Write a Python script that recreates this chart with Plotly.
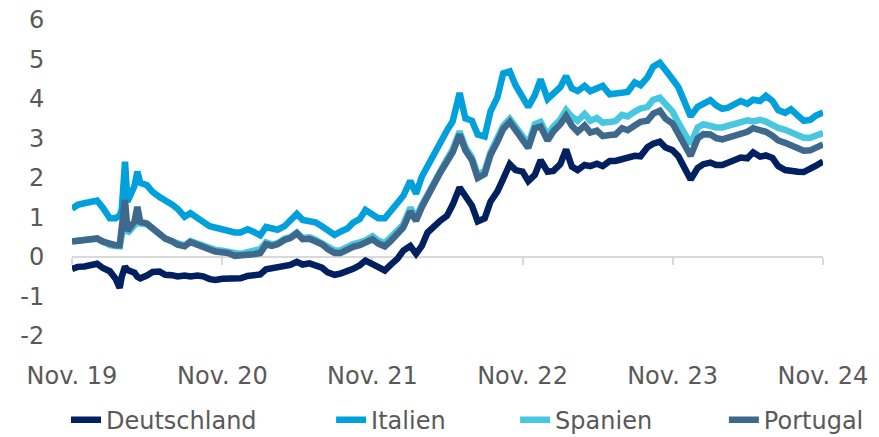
import pandas as pd
import plotly.graph_objects as go

# semi-monthly sample dates plus a few spike days
spike_dates = ["2020-02-25", "2020-03-09", "2020-04-08"]
dates = sorted(list(pd.date_range("2019-11-01", "2024-11-01", freq="SMS"))
               + list(pd.to_datetime(spike_dates)))

deutschland = [
    -0.30, -0.25, -0.24, -0.22, -0.17, -0.28, -0.36, -0.55, -0.78, -0.50, -0.24, -0.33, -0.40, -0.50,
    -0.54, -0.47, -0.38, -0.37, -0.45, -0.46, -0.49, -0.47, -0.49, -0.47, -0.49, -0.56, -0.58,
    -0.55, -0.55, -0.57, -0.54, -0.48, -0.48, -0.44, -0.31, -0.29, -0.28, -0.24, -0.20, -0.12, -0.19,
    -0.16, -0.20, -0.27, -0.39, -0.45, -0.42, -0.36, -0.30, -0.21, -0.09,
    -0.18, -0.27, -0.34, -0.20, -0.04, 0.16, 0.28, 0.08, 0.28, 0.62, 0.80, 0.92, 1.04, 1.32, 1.76,
    1.56, 1.30, 0.90, 0.98, 1.40, 1.66, 1.98, 2.35, 2.20,
    2.16, 1.92, 2.08, 2.45, 2.16, 2.18, 2.35, 2.72, 2.29, 2.20, 2.33, 2.30, 2.36, 2.30, 2.43, 2.43,
    2.48, 2.55, 2.56, 2.55, 2.78, 2.87, 2.92, 2.77,
    2.70, 2.55, 2.20, 1.96, 2.25, 2.35, 2.39, 2.33, 2.33, 2.38, 2.44, 2.52, 2.50, 2.65, 2.54, 2.57,
    2.51, 2.30, 2.20, 2.20, 2.16, 2.15, 2.22, 2.31, 2.42,
]
italien = [
    1.22, 1.32, 1.36, 1.40, 1.43, 1.25, 0.98, 0.98, 1.05, 1.20, 2.41, 1.40, 1.80, 2.16, 1.88, 1.82,
    1.65, 1.52, 1.44, 1.33, 1.22, 1.02, 1.11, 0.96, 0.89, 0.78, 0.74,
    0.71, 0.69, 0.62, 0.62, 0.70, 0.64, 0.55, 0.76, 0.72, 0.69, 0.78, 0.90, 1.09, 0.94, 0.89, 0.88,
    0.78, 0.66, 0.56, 0.64, 0.72, 0.87, 0.96, 1.19,
    1.05, 0.98, 0.98, 1.17, 1.35, 1.55, 1.93, 1.60, 2.03, 2.31, 2.63, 2.95, 3.20, 3.43, 4.15, 3.51,
    3.45, 3.10, 3.05, 3.68, 4.05, 4.65, 4.70, 4.35,
    4.05, 3.80, 4.10, 4.50, 4.00, 4.12, 4.30, 4.58, 4.27, 4.20, 4.33, 4.20, 4.27, 4.33, 4.12, 4.15,
    4.15, 4.18, 4.42, 4.35, 4.55, 4.82, 4.92, 4.75,
    4.50, 4.30, 3.93, 3.56, 3.80, 3.87, 3.97, 3.84, 3.75, 3.78, 3.89, 3.95, 3.88, 3.98, 3.95, 4.08,
    3.95, 3.72, 3.65, 3.74, 3.58, 3.45, 3.47, 3.58, 3.66,
]
spanien = [
    0.40, 0.42, 0.42, 0.44, 0.46, 0.40, 0.30, 0.28, 0.27, 0.55, 1.20, 0.60, 0.80, 1.00, 0.85, 0.83,
    0.70, 0.55, 0.46, 0.40, 0.33, 0.29, 0.40, 0.34, 0.30, 0.22, 0.18,
    0.16, 0.13, 0.07, 0.08, 0.12, 0.15, 0.20, 0.37, 0.32, 0.35, 0.46, 0.50, 0.62, 0.48, 0.50, 0.44,
    0.36, 0.25, 0.16, 0.17, 0.26, 0.33, 0.37, 0.42,
    0.53, 0.42, 0.35, 0.48, 0.67, 0.82, 1.25, 1.00, 1.32, 1.60, 1.95, 2.20, 2.47, 2.72, 3.18, 2.78,
    2.52, 2.08, 2.18, 2.65, 3.00, 3.32, 3.50, 3.28,
    3.08, 2.86, 3.36, 3.42, 3.07, 3.30, 3.48, 3.72, 3.55, 3.45, 3.62, 3.45, 3.52, 3.40, 3.42, 3.44,
    3.60, 3.56, 3.68, 3.76, 3.80, 3.98, 4.03, 3.88,
    3.68, 3.40, 3.15, 2.86, 3.28, 3.36, 3.32, 3.28, 3.28, 3.32, 3.38, 3.40, 3.46, 3.43, 3.47, 3.43,
    3.32, 3.27, 3.22, 3.17, 3.09, 3.02, 3.02, 3.08, 3.14,
]
portugal = [
    0.39, 0.40, 0.41, 0.44, 0.47, 0.39, 0.32, 0.30, 0.30, 0.68, 1.44, 0.66, 0.90, 1.27, 0.89, 0.85,
    0.72, 0.56, 0.47, 0.40, 0.31, 0.27, 0.38, 0.31, 0.27, 0.19, 0.14,
    0.12, 0.10, 0.03, 0.03, 0.07, 0.07, 0.10, 0.32, 0.28, 0.32, 0.43, 0.48, 0.60, 0.45, 0.46, 0.40,
    0.32, 0.20, 0.10, 0.10, 0.19, 0.26, 0.30, 0.35,
    0.45, 0.34, 0.27, 0.40, 0.60, 0.75, 1.15, 0.92, 1.26, 1.55, 1.90, 2.14, 2.41, 2.65, 3.10, 2.70,
    2.45, 2.00, 2.10, 2.58, 2.92, 3.24, 3.42, 3.20,
    3.00, 2.76, 3.26, 3.30, 2.95, 3.18, 3.36, 3.57, 3.32, 3.17, 3.33, 3.15, 3.20, 3.06, 3.09, 3.10,
    3.26, 3.21, 3.33, 3.42, 3.45, 3.63, 3.70, 3.50,
    3.38, 3.12, 2.80, 2.56, 3.00, 3.11, 3.10, 3.01, 2.98, 3.03, 3.09, 3.10, 3.17, 3.26, 3.21, 3.17,
    3.07, 2.95, 2.89, 2.84, 2.75, 2.69, 2.70, 2.78, 2.85,
]

tick_dates = ["2019-11-01", "2020-11-01", "2021-11-01", "2022-11-01", "2023-11-01", "2024-11-01"]
tick_labels = ["Nov. 19", "Nov. 20", "Nov. 21", "Nov. 22", "Nov. 23", "Nov. 24"]
y_ticks = [-2, -1, 0, 1, 2, 3, 4, 5, 6]
y_labels = ["-2", "-1", "0", "1", "2", "3", "4", "5", "6"]

series = [
    ("Deutschland", deutschland, "#002060", "legend", -0.008),
    ("Italien", italien, "#00A0DC", "legend2", 0.345),
    ("Spanien", spanien, "#48C7E0", "legend3", 0.590),
    ("Portugal", portugal, "#3E688C", "legend4", 0.868),
]

font = dict(family="DejaVu Sans, sans-serif", size=24, color="#595959")
xr = ["2019-11-01", "2024-11-01"]

fig = go.Figure()
legends = {}
for name, vals, col, lg, lx in series:
    fig.add_trace(go.Scatter(x=dates, y=vals, name=name, mode="lines", legend=lg,
                             line=dict(color=col, width=6.5)))
    legends[lg] = dict(orientation="h", x=lx, xanchor="left", y=-0.266, yanchor="middle",
                       font=font, bgcolor="rgba(0,0,0,0)")

# dummy trace on x2 so the zero-line axis with its tick marks is drawn
fig.add_trace(go.Scatter(x=tick_dates, y=[0] * len(tick_dates), xaxis="x2", mode="lines",
                         line=dict(width=0), opacity=0, showlegend=False, hoverinfo="skip"))

# page body has an 8px margin, so the figure is 8px smaller and shifted margins
fig.update_layout(
    width=871, height=429,
    margin=dict(l=64, r=56, t=12, b=101, autoexpand=False),
    paper_bgcolor="white", plot_bgcolor="white",
    font=font,
    showlegend=True,
    xaxis=dict(range=xr, tickvals=tick_dates, ticktext=tick_labels, showgrid=False,
               zeroline=False, showline=False, ticks="outside", ticklen=18,
               tickcolor="rgba(0,0,0,0)", tickfont=font, automargin=False,
               ticklabeloverflow="allow"),
    xaxis2=dict(range=xr, overlaying="x", anchor="free", position=0.25, side="bottom",
                tickvals=tick_dates, showticklabels=False, showgrid=False, zeroline=False,
                showline=True, linecolor="#D9D9D9", linewidth=2, ticks="outside",
                ticklen=7, tickwidth=2, tickcolor="#D9D9D9", layer="below traces",
                automargin=False),
    yaxis=dict(range=[-2, 6], tickvals=y_ticks, ticktext=y_labels, showgrid=False,
               zeroline=False, showline=False, ticks="outside", ticklen=22,
               tickcolor="rgba(0,0,0,0)", tickfont=font, automargin=False,
               ticklabeloverflow="allow"),
    **legends,
)

fig.write_html("out.html")
